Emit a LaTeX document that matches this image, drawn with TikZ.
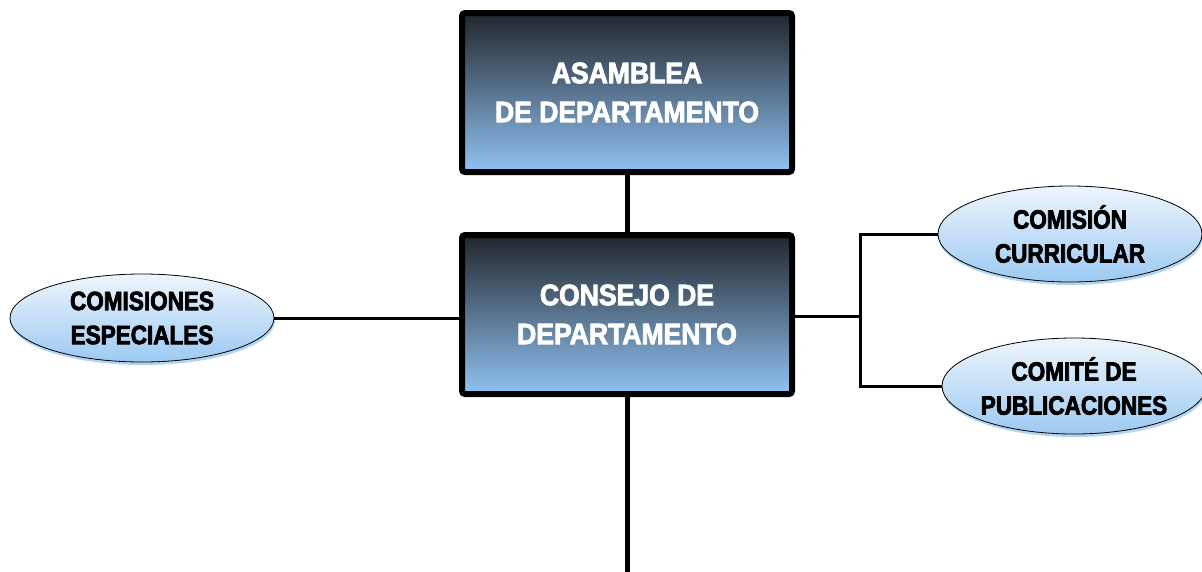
\documentclass[tikz,border=0pt]{standalone}
\usepackage{fontspec}
\setmainfont{Liberation Sans}
\newfontfamily\bxf{Liberation Sans Bold}[FakeStretch=0.9, FakeBold=2.8]
\newfontfamily\elf{Liberation Sans Bold}[FakeStretch=0.85, FakeBold=2.8]
\usetikzlibrary{shapes.geometric,shadows}
\definecolor{dk}{HTML}{22262C}
\definecolor{md}{HTML}{506984}
\definecolor{lb}{HTML}{90C3F3}
\definecolor{ew}{HTML}{EEF5FD}
\definecolor{eb}{HTML}{9CC9F2}
\definecolor{sh}{HTML}{B4D4F0}
\begin{document}
\begin{tikzpicture}[x=1pt,y=-1pt,
  bigbox/.style={rectangle, draw=black, line width=6pt, rounded corners=3pt,
    minimum width=330pt, minimum height=159pt, inner sep=0pt,
    top color=dk, middle color=md, bottom color=lb, text=white, align=center,
    font=\bxf\fontsize{29.5}{39}\selectfont},
  oval/.style={ellipse, draw=black, line width=0.8pt, inner sep=0pt,
    top color=ew, bottom color=eb, text=black, align=center,
    drop shadow={shadow xshift=1pt, shadow yshift=-3pt, fill=sh, opacity=1},
    font=\elf\fontsize{26.5}{34}\selectfont},
  thick line/.style={line width=5pt},
  thin line/.style={line width=3pt}]
\useasboundingbox (0,0) rectangle (1202,571);
\node[bigbox] (asm) at (627,92.5) {ASAMBLEA\\DE DEPARTAMENTO};
\node[bigbox] (cons) at (627,314.5) {CONSEJO DE\\DEPARTAMENTO};
\node[oval, minimum width=264pt, minimum height=88pt] (esp) at (142,318) {COMISIONES\\ESPECIALES};
\node[oval, minimum width=264pt, minimum height=96pt] (cur) at (1070,234) {COMISIÓN\\CURRICULAR};
\node[oval, minimum width=264pt, minimum height=96pt] (pub) at (1074,386) {COMITÉ DE\\PUBLICACIONES};
\coordinate (bot) at (627,575);
\coordinate (jx) at (860,316);
\draw[thick line] (asm.south) -- (cons.north);
\draw[thick line] (cons.south) -- (bot);
\draw[thin line] (esp.east) -- (esp.east -| cons.west);
\draw[thin line] (cons.east |- jx) -- (jx);
\draw[thin line] (cur.west) -| (jx) |- (pub.west);
\end{tikzpicture}
\end{document}
